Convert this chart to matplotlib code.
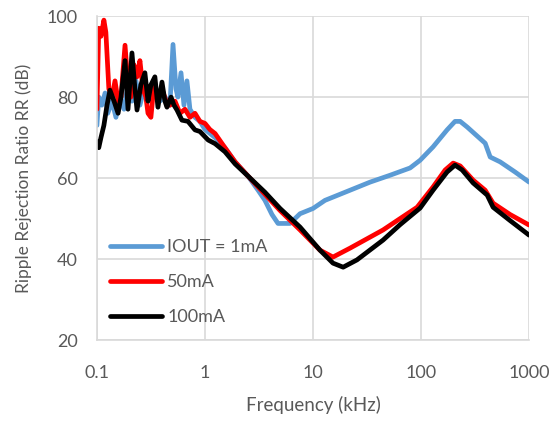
import matplotlib.pyplot as plt

# Values (frequency in kHz, RR in dB)
freq_1ma = [0.1, 0.104, 0.111, 0.119, 0.126, 0.138, 0.15, 0.163, 0.178, 0.194,
            0.211, 0.23, 0.25, 0.278, 0.31, 0.344, 0.383, 0.426, 0.474, 0.506,
            0.539, 0.562, 0.6, 0.639, 0.681, 0.726, 0.808, 0.898, 1.0, 1.24,
            1.53, 1.9, 2.5, 3.1, 3.59, 4.17, 4.74, 6.12, 7.58, 10, 12.9, 22,
            33.7, 51.6, 79.1, 97.9, 129, 174, 206, 230, 267, 392, 436, 539,
            741, 1000]
rr_1ma = [73, 80, 78, 81, 76, 79, 75, 80, 77, 83,
          79, 84, 78, 83, 79, 82, 79, 80, 78, 93,
          82, 80, 86, 78, 84, 77, 75, 74, 72, 70,
          67.5, 64, 60.5, 57, 54.5, 51, 48.8, 48.8, 51.2, 52.5, 54.5, 57,
          59, 60.7, 62.5, 64.4, 67.7, 71.9, 74, 74, 72.6, 68.6, 65.2, 64,
          61.5, 59]

freq_50ma = [0.1, 0.104, 0.109, 0.116, 0.121, 0.129, 0.138, 0.147, 0.157, 0.167,
             0.182, 0.194, 0.206, 0.22, 0.235, 0.25, 0.267, 0.284, 0.297, 0.316,
             0.337, 0.367, 0.4, 0.436, 0.474, 0.528, 0.587, 0.653, 0.726, 0.808,
             0.898, 1.0, 1.11, 1.24, 1.53, 1.9, 2.5, 3.59, 4.95, 7.58, 11.6,
             15.3, 22, 44.5, 63.9, 91.9, 129, 167, 198, 230, 303, 392, 464,
             667, 1000]
rr_50ma = [77, 97, 95, 99, 96, 82, 80, 84, 79, 80,
           92.8, 83, 80, 88, 85, 89, 82, 80, 76, 75,
           83, 80, 82, 79, 78, 79, 76, 77, 75, 76,
           74, 73.5, 72, 71, 67.5, 64, 60.5, 56, 52, 47.2, 42.2,
           40.5, 42.7, 47.2, 50, 52.8, 57.8, 62, 63.7, 63, 59.5, 57, 53.8,
           51, 48.4]

freq_100ma = [0.1, 0.104, 0.109, 0.116, 0.124, 0.132, 0.144, 0.157, 0.167, 0.182,
              0.194, 0.211, 0.225, 0.235, 0.255, 0.278, 0.297, 0.316, 0.344, 0.367,
              0.4, 0.426, 0.445, 0.485, 0.517, 0.551, 0.612, 0.696, 0.808, 0.898,
              1.07, 1.24, 1.53, 1.9, 2.5, 3.59, 4.95, 7.58, 11.6, 15.3, 19,
              25.5, 44.5, 63.9, 97.9, 129, 174, 206, 240, 303, 409, 464, 667,
              1000]
rr_100ma = [69, 67.5, 70, 73, 78, 81.7, 79, 76, 80, 89,
            77, 90.9, 82, 76.8, 83, 86, 79, 83, 85, 77.5,
            83.7, 79, 77.5, 80, 78, 76.8, 74.3, 74, 71.9, 71.5,
            69.4, 68.5, 66.5, 63.5, 60.5, 56.5, 52.5, 47.9, 42.2, 39, 38,
            39.8, 44.7, 48.5, 52.6, 57, 61.5, 63.2, 62, 58.8, 55.8, 52.8, 49.5,
            45.9]

labels = ['IOUT = 1mA', '50mA', '100mA']
colors = ['#5B9BD5', '#FF0000', '#000000']
x_ticks = [0.1, 1, 10, 100, 1000]
x_tick_labels = ['0.1', '1', '10', '100', '1000']
y_ticks = [20, 40, 60, 80, 100]

plt.rcParams['font.family'] = ['Lato', 'DejaVu Sans']
text_color = '#595959'
grid_color = '#D9D9D9'

fig = plt.figure(figsize=(5.57, 4.23), dpi=100)
ax = fig.add_axes([0.174, 0.196, 0.776, 0.766])

series = [(freq_1ma, rr_1ma), (freq_50ma, rr_50ma), (freq_100ma, rr_100ma)]
for (f, rr), lab, col in zip(series, labels, colors):
    ax.plot(f, rr, color=col, lw=3.4, label=lab, solid_joinstyle='round',
            solid_capstyle='round')

ax.set_xscale('log')
ax.set_xlim(0.1, 1000)
ax.set_ylim(20, 100)
ax.set_xticks(x_ticks)
ax.set_xticklabels(x_tick_labels)
ax.set_yticks(y_ticks)
ax.minorticks_off()
ax.grid(True, color=grid_color, lw=1.2)
ax.set_axisbelow(True)
for side in ['top', 'right']:
    ax.spines[side].set_visible(False)
for side in ['left', 'bottom']:
    ax.spines[side].set_color(grid_color)
    ax.spines[side].set_linewidth(1.2)

ax.tick_params(length=0, labelsize=13, labelcolor=text_color)
ax.tick_params(axis='x', pad=18)
ax.tick_params(axis='y', pad=14)
ax.set_xlabel('Frequency (kHz)', fontsize=13.5, color=text_color, labelpad=11)
ax.set_ylabel('Ripple Rejection Ratio RR (dB)', fontsize=12.5, color=text_color,
              labelpad=10)

leg = ax.legend(loc='lower left', bbox_to_anchor=(0.0, 0.008), frameon=False,
                fontsize=13, handlelength=2.9, handletextpad=0.3,
                labelspacing=1.05, borderaxespad=0.3)
for t in leg.get_texts():
    t.set_color(text_color)

plt.savefig('out.png', dpi=100)
